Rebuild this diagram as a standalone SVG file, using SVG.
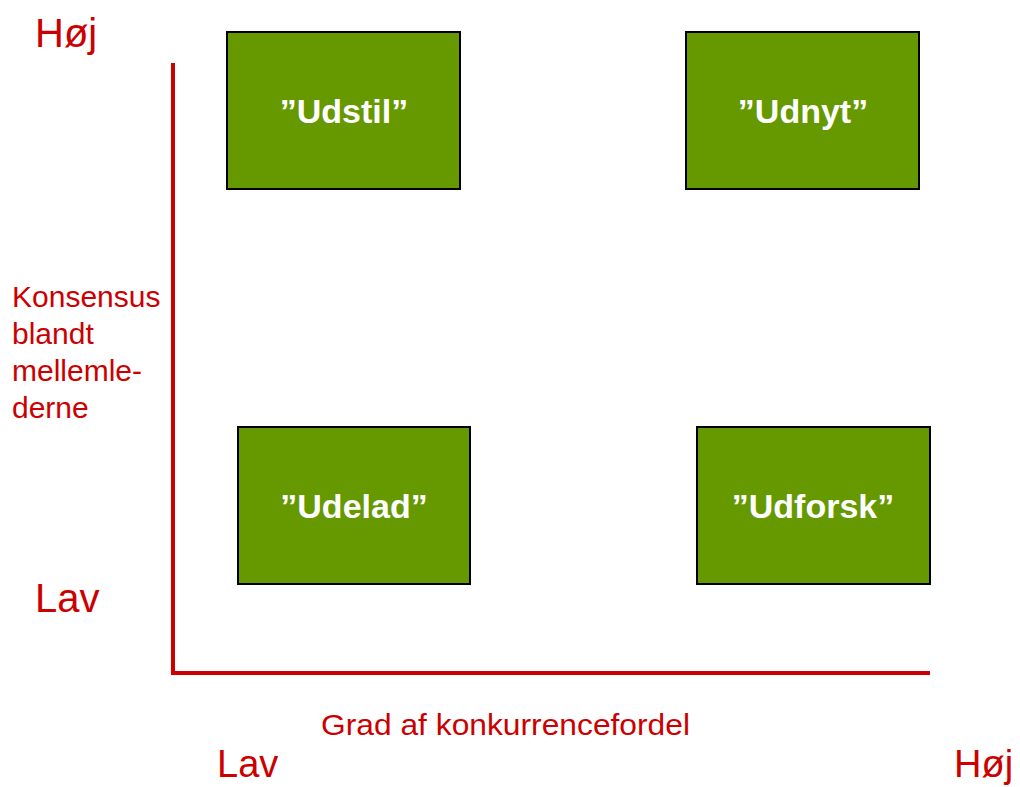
<svg xmlns="http://www.w3.org/2000/svg" width="1020" height="787" viewBox="0 0 1020 787">
<style>
.box{fill:#669900;stroke:#000;stroke-width:2}
.bt{font-family:"Liberation Sans",Arial,sans-serif;font-size:34px;font-weight:bold;fill:#fff;text-anchor:middle}
.lbl{font-family:"Liberation Sans",Arial,sans-serif;fill:#cc0000}
.axis{stroke:#cc0000;stroke-width:4;fill:none}
</style>
<rect width="1020" height="787" fill="#fff"/>
<g id="connectors">
<path class="axis" d="M173,63 V673 H930"/>
</g>
<g id="udstil"><rect class="box" x="227" y="32" width="233" height="157"/><text class="bt" x="344" y="123">”Udstil”</text></g>
<g id="udnyt"><rect class="box" x="686" y="32" width="233" height="157"/><text class="bt" x="803" y="123">”Udnyt”</text></g>
<g id="udelad"><rect class="box" x="238" y="427" width="232" height="157"/><text class="bt" x="354" y="518">”Udelad”</text></g>
<g id="udforsk"><rect class="box" x="697" y="427" width="233" height="157"/><text class="bt" x="813" y="518">”Udforsk”</text></g>
<g id="labels">
<text class="lbl" x="35" y="47" font-size="40">Høj</text>
<text class="lbl" x="35" y="612" font-size="40">Lav</text>
<text class="lbl" x="217" y="777" font-size="38">Lav</text>
<text class="lbl" x="954" y="777" font-size="38">Høj</text>
<text class="lbl" font-size="30"><tspan x="12" y="307">Konsensus</tspan><tspan x="12" y="344">blandt</tspan><tspan x="12" y="381">mellemle-</tspan><tspan x="12" y="418">derne</tspan></text>
<text class="lbl" x="321" y="735" font-size="30" textLength="369" lengthAdjust="spacingAndGlyphs">Grad af konkurrencefordel</text>
</g>
</svg>
